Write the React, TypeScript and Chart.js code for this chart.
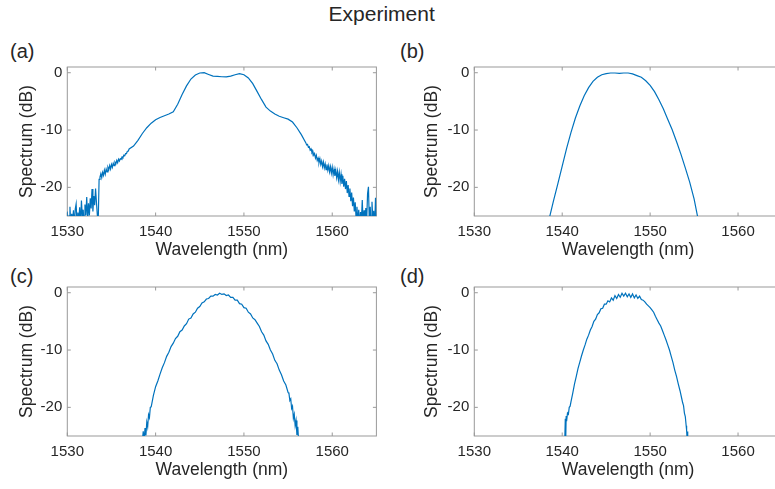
import React, { useEffect, useRef } from "react";
import { Chart, registerables } from "chart.js";

Chart.register(...registerables);

const FONT = "'Liberation Sans', Arial, Helvetica, sans-serif";
const TEXT = "#262626";
const LINE = "#0072BD";
const BOX = "#999999";

const xTicks = [1530, 1540, 1550, 1560];
const yTicks = [-20, -10, 0];
const xRange = [1530, 1565];
const yRange = [-25, 1];

const panelLabels = ["(a)", "(b)", "(c)", "(d)"];
const figTitle = "Experiment";
const xTitle = "Wavelength (nm)";
const yTitle = "Spectrum (dB)";

// ---------- panel (a) ----------
const wlA = [
  1530.0, 1530.1, 1530.2, 1530.3, 1530.4, 1530.5, 1530.6, 1530.7, 1530.8, 1530.9,
  1531.0, 1531.1, 1531.2, 1531.3, 1531.4, 1531.5, 1531.6, 1531.7, 1531.8, 1531.9,
  1532.0, 1532.1, 1532.2, 1532.3, 1532.4, 1532.5, 1532.6, 1532.7, 1532.8, 1532.9,
  1533.0, 1533.1, 1533.2, 1533.3, 1533.4, 1533.5, 1533.6, 1533.7, 1533.8, 1533.9,
  1534.0, 1534.1, 1534.2, 1534.3, 1534.4, 1534.5, 1534.6, 1534.7, 1534.8, 1534.9,
  1535.0, 1535.1, 1535.2, 1535.3, 1535.4, 1535.5, 1535.6, 1535.7, 1535.8, 1535.9,
  1536.0, 1536.1, 1536.2, 1536.3, 1536.4, 1536.5, 1536.6, 1536.7, 1536.8, 1536.9,
  1537.0,
  1537.5, 1538.0, 1538.5, 1539.0, 1539.5, 1540.0, 1540.5, 1541.0, 1541.5, 1542.0,
  1542.5, 1543.0, 1543.5, 1544.0, 1544.5, 1545.0, 1545.5, 1546.0, 1546.5, 1547.0,
  1547.5, 1548.0, 1548.5, 1549.0, 1549.5, 1550.0, 1550.5, 1551.0, 1551.5, 1552.0,
  1552.5, 1553.0, 1553.5, 1554.0, 1554.5, 1555.0, 1555.5, 1556.0, 1556.5,
  1557.0, 1557.1, 1557.2, 1557.3, 1557.4, 1557.5, 1557.6, 1557.7, 1557.8, 1557.9,
  1558.0, 1558.1, 1558.2, 1558.3, 1558.4, 1558.5, 1558.6, 1558.7, 1558.8, 1558.9,
  1559.0, 1559.1, 1559.2, 1559.3, 1559.4, 1559.5, 1559.6, 1559.7, 1559.8, 1559.9,
  1560.0, 1560.1, 1560.2, 1560.3, 1560.4, 1560.5, 1560.6, 1560.7, 1560.8, 1560.9,
  1561.0, 1561.1, 1561.2, 1561.3, 1561.4, 1561.5, 1561.6, 1561.7, 1561.8, 1561.9,
  1562.0, 1562.1, 1562.2, 1562.3, 1562.4, 1562.5, 1562.6, 1562.7, 1562.8, 1562.9,
  1563.0, 1563.1, 1563.2, 1563.3, 1563.4, 1563.5, 1563.6, 1563.7, 1563.8, 1563.9,
  1564.0, 1564.1, 1564.2, 1564.3, 1564.4, 1564.5, 1564.6, 1564.7, 1564.8, 1564.9,
  1565.0,
];
const specA = [
  -24.2, -26.5, -25.0, -23.4, -26.8, -24.6, -25.8, -24.0, -27.0, -23.8,
  -22.9, -26.2, -24.4, -25.9, -23.5, -26.6, -22.3, -25.1, -23.9, -26.4,
  -23.0, -24.8, -21.7, -25.6, -22.8, -24.9, -21.9, -23.7, -20.3, -24.2,
  -21.5, -23.1, -20.2, -22.6, -24.8, -26.0, -18.6, -18.2, -17.6, -18.3,
  -17.4, -17.9, -17.0, -17.7, -16.8, -17.3, -16.5, -16.9, -16.2, -16.8,
  -16.0, -16.5, -15.8, -16.2, -15.6, -15.9, -15.3, -15.7, -15.1, -15.4,
  -15.0, -15.1, -14.7, -14.8, -14.4, -14.5, -14.1, -14.1, -13.7, -13.7,
  -13.3,
  -12.8, -11.8, -10.6, -9.6, -8.8, -8.2, -7.8, -7.5, -7.2, -6.8,
  -5.5, -3.8, -2.3, -1.1, -0.4, -0.05, 0.0, -0.3, -0.6, -0.65,
  -0.7, -0.72, -0.6, -0.35, -0.15, -0.35, -0.9, -1.9, -3.3, -4.7,
  -6.0, -6.7, -7.2, -7.6, -7.85, -8.1, -8.6, -9.6, -10.8,
  -12.2, -12.6, -12.5, -13.0, -12.9, -13.5, -13.3, -13.9, -13.7, -14.4,
  -14.1, -14.9, -14.4, -15.3, -14.9, -15.7, -15.0, -16.0, -15.4, -16.4,
  -15.6, -16.6, -15.9, -16.9, -16.0, -17.0, -16.2, -17.3, -16.4, -17.5,
  -16.5, -17.8, -16.8, -18.0, -17.0, -18.3, -17.2, -18.7, -17.4, -19.0,
  -17.7, -19.4, -18.0, -19.9, -18.5, -20.3, -18.9, -21.0, -19.6, -21.6,
  -20.2, -22.4, -20.9, -23.3, -21.8, -24.2, -22.6, -25.4, -23.4, -26.3,
  -23.9, -26.8, -24.3, -25.9, -22.2, -26.5, -24.0, -27.0, -23.6, -25.8,
  -21.1, -19.9, -26.2, -23.4, -26.9, -22.5, -25.7, -24.1, -27.2, -21.8,
  -25.6,
];

// ---------- panel (b) ----------
const wlB = [
  1538.0, 1538.5, 1539.0, 1539.5, 1540.0, 1540.5, 1541.0, 1541.5, 1542.0, 1542.5,
  1543.0, 1543.5, 1544.0, 1544.5, 1545.0, 1545.5, 1546.0, 1546.5, 1547.0, 1547.5,
  1548.0, 1548.5, 1549.0, 1549.5, 1550.0, 1550.5, 1551.0, 1551.5, 1552.0, 1552.5,
  1553.0, 1553.5, 1554.0, 1554.5, 1555.0, 1555.5, 1556.0,
];
const specB = [
  -28.5, -25.6, -22.4, -19.4, -16.3, -13.2, -10.4, -7.9, -5.8, -4.0,
  -2.6, -1.5, -0.8, -0.35, -0.15, -0.05, -0.05, -0.1, -0.05, -0.05,
  -0.2, -0.5, -0.8, -1.4, -2.2, -3.3, -4.7, -6.3, -8.1, -9.9,
  -12.0, -14.2, -16.6, -19.1, -22.0, -25.9, -29.5,
];

// ---------- panel (c) ----------
const wlC = [
  1538.25, 1538.5, 1538.6, 1538.7, 1538.8, 1538.9, 1539.0, 1539.1, 1539.2, 1539.3,
  1539.4, 1539.5, 1539.75, 1540.0, 1540.25, 1540.5, 1540.75, 1541.0, 1541.25, 1541.5,
  1541.75, 1542.0, 1542.25, 1542.5, 1542.75, 1543.0, 1543.25, 1543.5, 1543.75, 1544.0,
  1544.25, 1544.5, 1544.75, 1545.0, 1545.25, 1545.5, 1545.75, 1546.0, 1546.25, 1546.5,
  1546.75, 1547.0, 1547.25, 1547.5, 1547.75, 1548.0, 1548.25, 1548.5, 1548.75, 1549.0,
  1549.25, 1549.5, 1549.75, 1550.0, 1550.25, 1550.5, 1550.75, 1551.0, 1551.25, 1551.5,
  1551.75, 1552.0, 1552.25, 1552.5, 1552.75, 1553.0, 1553.25, 1553.5, 1553.75, 1554.0,
  1554.25, 1554.5, 1554.75, 1555.0, 1555.1, 1555.2, 1555.3, 1555.4, 1555.5, 1555.6,
  1555.7, 1555.8, 1555.9, 1556.0, 1556.1, 1556.2, 1556.3,
];
const specC = [
  -27.5, -25.8, -24.2, -25.9, -23.6, -24.9, -22.6, -23.4, -21.3, -21.8,
  -20.0, -19.9, -17.9, -16.4, -15.4, -14.2, -13.1, -12.2, -11.1, -10.4,
  -9.4, -8.8, -8.0, -7.6, -6.8, -6.5, -5.8, -5.4, -4.6, -4.4,
  -3.7, -3.4, -2.7, -2.4, -1.8, -1.6, -1.1, -1.0, -0.6, -0.6,
  -0.3, -0.4, -0.1, -0.3, -0.2, -0.5, -0.4, -0.8, -0.8, -1.3,
  -1.3, -1.9, -2.0, -2.6, -2.7, -3.4, -3.7, -4.4, -4.7, -5.3,
  -5.9, -6.8, -7.4, -8.4, -9.0, -10.0, -10.7, -11.8, -12.4, -13.5,
  -14.3, -15.4, -16.1, -17.4, -17.6, -18.8, -18.5, -20.2, -19.8, -21.9,
  -21.2, -23.2, -22.3, -24.8, -23.4, -26.2, -28.0,
];

// ---------- panel (d) ----------
const wlD = [
  1540.2, 1540.3, 1540.35, 1540.4, 1540.45, 1540.5, 1540.6, 1540.7, 1540.8, 1540.9,
  1541.0, 1541.2, 1541.4, 1541.6, 1541.8, 1542.0, 1542.2, 1542.4, 1542.6, 1542.8,
  1543.0, 1543.2, 1543.4, 1543.6, 1543.8, 1544.0, 1544.2, 1544.4, 1544.6, 1544.8,
  1545.0, 1545.2, 1545.4, 1545.6, 1545.8, 1546.0, 1546.2, 1546.4, 1546.6, 1546.8,
  1547.0, 1547.2, 1547.4, 1547.6, 1547.8, 1548.0, 1548.2, 1548.4, 1548.6, 1548.8,
  1549.0, 1549.2, 1549.4, 1549.6, 1549.8, 1550.0, 1550.2, 1550.4, 1550.6, 1550.8,
  1551.0, 1551.2, 1551.4, 1551.6, 1551.8, 1552.0, 1552.2, 1552.4, 1552.6, 1552.8,
  1553.0, 1553.2, 1553.4, 1553.6, 1553.7, 1553.8, 1553.9, 1554.0, 1554.1, 1554.15,
  1554.2, 1554.25, 1554.3,
];
const specD = [
  -27.0, -25.2, -22.0, -25.5, -21.5, -22.4, -21.0, -21.2, -20.0, -19.8,
  -19.0, -17.5, -15.9, -14.6, -13.2, -12.1, -11.0, -10.0, -9.1, -8.1,
  -7.4, -6.5, -5.9, -5.0, -4.6, -3.8, -3.5, -2.8, -2.7, -2.0,
  -2.0, -1.4, -1.6, -0.9, -1.3, -0.5, -1.0, -0.3, -0.8, -0.1,
  -0.6, -0.1, -0.7, -0.2, -0.8, -0.2, -0.9, -0.4, -1.0, -0.6,
  -1.2, -1.3, -1.6, -2.0, -2.3, -2.6, -3.0, -3.4, -4.1, -4.7,
  -5.3, -5.8, -6.6, -7.4, -8.2, -9.1, -10.0, -11.1, -12.2, -13.5,
  -14.6, -15.9, -17.1, -18.5, -19.2, -19.7, -21.0, -21.6, -23.2, -24.0,
  -25.4, -24.2, -27.0,
];

type Layout = {
  left: number; top: number; width: number; height: number;
  yAxisW: number; padTop: number; padRight: number; xAxisH: number;
  yTitlePad: number; xTitlePad: number;
};

const layouts: Layout[] = [
  { left: 0, top: 30, width: 388, height: 240, yAxisW: 67.3, padTop: 37, padRight: 11.6, xAxisH: 54, yTitlePad: 16.2, xTitlePad: 9.5 },
  { left: 388, top: 30, width: 400, height: 240, yAxisW: 86.3, padTop: 37, padRight: 6, xAxisH: 54, yTitlePad: 33.2, xTitlePad: 9.5 },
  { left: 0, top: 265, width: 388, height: 224, yAxisW: 67.3, padTop: 22, padRight: 11.6, xAxisH: 53, yTitlePad: 16.2, xTitlePad: 8.5 },
  { left: 388, top: 265, width: 400, height: 224, yAxisW: 86.3, padTop: 22, padRight: 6, xAxisH: 53, yTitlePad: 33.2, xTitlePad: 8.5 },
];

const series = [
  { wl: wlA, spec: specA },
  { wl: wlB, spec: specB },
  { wl: wlC, spec: specC },
  { wl: wlD, spec: specD },
];

const labelPos = [
  { left: 10, top: 40.8 },
  { left: 400, top: 40.8 },
  { left: 10, top: 265.7 },
  { left: 400, top: 265.7 },
];

const boxPlugin = {
  id: "matlabBox",
  beforeDatasetsDraw(chart: any) {
    const { ctx, chartArea: a, scales } = chart;
    const x = scales.x;
    const y = scales.y;
    ctx.save();
    ctx.strokeStyle = BOX;
    ctx.lineWidth = 1;
    ctx.strokeRect(a.left, a.top, a.right - a.left, a.bottom - a.top);
    const L = 3.5;
    ctx.beginPath();
    for (const v of xTicks) {
      const px = x.getPixelForValue(v);
      ctx.moveTo(px, a.bottom);
      ctx.lineTo(px, a.bottom - L);
      ctx.moveTo(px, a.top);
      ctx.lineTo(px, a.top + L);
    }
    for (const v of yTicks) {
      const py = y.getPixelForValue(v);
      ctx.moveTo(a.left, py);
      ctx.lineTo(a.left + L, py);
      ctx.moveTo(a.right, py);
      ctx.lineTo(a.right - L, py);
    }
    ctx.stroke();
    ctx.restore();
  },
};

function Panel({ idx }: { idx: number }) {
  const ref = useRef<HTMLCanvasElement>(null);
  const lay = layouts[idx];
  useEffect(() => {
    const s = series[idx];
    const chart = new Chart(ref.current as HTMLCanvasElement, {
      type: "line",
      data: {
        datasets: [
          {
            data: s.wl.map((x, i) => ({ x, y: s.spec[i] })),
            borderColor: LINE,
            borderWidth: 1.2,
            pointRadius: 0,
            fill: false,
            tension: 0,
          },
        ],
      },
      options: {
        animation: false,
        responsive: false,
        devicePixelRatio: 1,
        events: [],
        layout: { padding: { top: lay.padTop, right: lay.padRight, left: 0, bottom: 0 } },
        plugins: {
          legend: { display: false },
          tooltip: { enabled: false },
          title: { display: false },
        },
        scales: {
          x: {
            type: "linear",
            min: xRange[0],
            max: xRange[1],
            afterBuildTicks: (sc: any) => {
              sc.ticks = xTicks.map((v) => ({ value: v }));
            },
            afterFit: (sc: any) => {
              sc.height = lay.xAxisH;
            },
            grid: { display: false, drawTicks: false },
            border: { display: false },
            ticks: {
              font: { family: FONT, size: 15 },
              color: TEXT,
              padding: 6.5,
              maxRotation: 0,
              autoSkip: false,
              callback: (v: any) => String(v),
            },
            title: {
              display: true,
              text: xTitle,
              font: { family: FONT, size: 17.5 },
              color: TEXT,
              padding: { top: 0, bottom: lay.xTitlePad },
            },
          },
          y: {
            type: "linear",
            min: yRange[0],
            max: yRange[1],
            afterBuildTicks: (sc: any) => {
              sc.ticks = yTicks.map((v) => ({ value: v }));
            },
            afterFit: (sc: any) => {
              sc.width = lay.yAxisW;
            },
            grid: { display: false, drawTicks: false },
            border: { display: false },
            ticks: {
              font: { family: FONT, size: 15 },
              color: TEXT,
              padding: 5,
              autoSkip: false,
              callback: (v: any) => String(v),
            },
            title: {
              display: true,
              text: yTitle,
              font: { family: FONT, size: 17.5 },
              color: TEXT,
              padding: { top: lay.yTitlePad, bottom: 0 },
            },
          },
        },
      } as any,
      plugins: [boxPlugin],
    });
    return () => chart.destroy();
  }, [idx]);
  return (
    <canvas
      ref={ref}
      width={lay.width}
      height={lay.height}
      style={{ position: "absolute", left: lay.left, top: lay.top, width: lay.width, height: lay.height, display: "block" }}
    />
  );
}

export default function App() {
  return (
    <div
      style={{
        position: "absolute",
        left: 0,
        top: 0,
        width: 775,
        height: 489,
        overflow: "hidden",
        background: "#ffffff",
        fontFamily: FONT,
        color: TEXT,
      }}
    >
      <div
        style={{
          position: "absolute",
          left: 381.7,
          top: 3.2,
          transform: "translateX(-50%)",
          fontSize: 21,
          lineHeight: "21px",
          whiteSpace: "nowrap",
        }}
      >
        {figTitle}
      </div>
      {panelLabels.map((t, i) => (
        <div
          key={t}
          style={{
            position: "absolute",
            left: labelPos[i].left,
            top: labelPos[i].top,
            fontSize: 20,
            lineHeight: "20px",
            whiteSpace: "nowrap",
          }}
        >
          {t}
        </div>
      ))}
      {layouts.map((_, i) => (
        <Panel key={i} idx={i} />
      ))}
    </div>
  );
}
